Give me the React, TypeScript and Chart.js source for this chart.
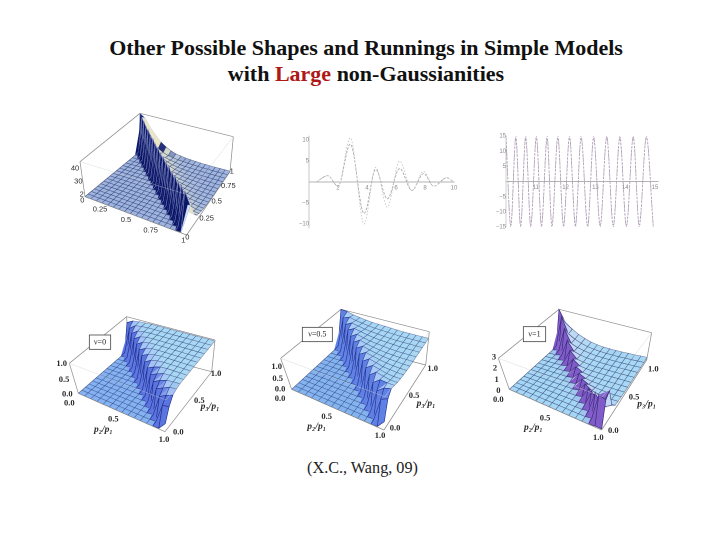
import React, { useEffect, useRef } from "react";
import { Chart, registerables } from "chart.js";

Chart.register(...registerables);

// ---------- 2D panels ----------
const waveX = [0.5, 1.3, 2, 2.85, 3.8, 4.6, 5.4, 6.25, 7.1, 7.9, 8.6, 9.5, 10];
const waveOuter = [0, 1.5, -1, 10.5, -10, 3.5, -6, 5, -2, 2.5, -1, 1, 0];
const waveInner = [0, 1.5, -1, 9, -7.5, 3, -4, 3.2, -2, 2, -1, 1, 0];

const fastX = [10.0, 10.16, 10.33, 10.49, 10.66, 10.83, 11.02, 11.19, 11.38, 11.54, 11.74, 11.93, 12.13, 12.33, 12.52, 12.74, 12.94, 13.16, 13.38, 13.6, 13.82, 14.04, 14.27, 14.47, 14.71, 14.94];
const fastA = [15, -15, 15, -15, 15, -15, 15, -15, 15, -15, 15, -15, 15, -15, 15, -15, 15, -15, 15, -15, 15, -15, 15, -15, 15, -15];
const fastB = [14.4, -14.4, 14.3, -14.5, 14.4, -14.3, 14.5, -14.4, 14.3, -14.5, 14.4, -14.4, 14.5, -14.3, 14.4, -14.5, 14.3, -14.4, 14.5, -14.4, 14.3, -14.5, 14.4, -14.3, 14.5, -14.4];

// ---------- 3D panels: rows along the first axis; each row lists its values up to the far edge,
// anything before the listed values is the flat floor (0) ----------
const surfaceFine = [
  [.6, 40], [.6, 40, 36], [.6, 40, 24, 27], [.6, 39, 24, 15, 20], [.6, 40, 23, 14, 10, 14],
  [.6, 39, 23, 14, 9, 7, 10], [.6, 40, 22, 13, 9, 6, 5, 7], [.6, 39, 22, 13, 8, 6, 4.5, 4, 5],
  [.6, 40, 22, 13, 8, 6, 4, 3.5, 3, 4], [.6, 39, 21, 12, 8, 5, 4, 3, 2.5, 2.5, 3],
  [.6, 40, 21, 12, 8, 5, 4, 3, 2.5, 2, 2, 2.5], [.6, 39, 21, 12, 7, 5, 3.5, 3, 2.3, 1.9, 1.7, 1.7, 2],
  [.6, 40, 20, 12, 7, 5, 3.5, 2.8, 2.2, 1.8, 1.5, 1.4, 1.4, 1.6],
  [.6, 39, 20, 11, 7, 5, 3.5, 2.7, 2.1, 1.7, 1.4, 1.2, 1.2, 1.2, 1.3],
  [.6, 40, 20, 11, 7, 4.5, 3.3, 2.6, 2, 1.6, 1.3, 1.1, 1, 1, 1, 1.1],
  [.6, 39, 20, 11, 7, 4.5, 3.2, 2.5, 1.9, 1.5, 1.2, 1, .9, .9, .8, .8, .9],
  [.6, 40, 20, 11, 7, 4.5, 3.2, 2.4, 1.8, 1.4, 1.1, .9, .8, .7, .7, .7, .7, .8],
  [.6, 39, 20, 11, 7, 4.5, 3.2, 2.4, 1.8, 1.4, 1.1, .9, .8, .7, .6, .6, .6, .6, .7],
  [30, 26, 18, 10, 6, 4, 3, 2.2, 1.7, 1.3, 1, .8, .7, .6, .5, .5, .5, .5, .6],
];
const surfaceNu0 = [
  [.02, .82], [.02, .8, .92], [.02, .8, .93, .95], [.02, .8, .93, .96, .96],
  [.02, .8, .92, .96, .97, .97], [.02, .8, .92, .96, .97, .97, .97],
  [.02, .8, .9, .96, .97, .97, .97, .97], [.02, .78, .9, .96, .97, .97, .97, .97, .97],
  [.02, .78, .9, .95, .97, .97, .97, .97, .97, .97], [.02, .76, .88, .95, .97, .97, .97, .97, .97, .97, .97],
  [.02, .74, .86, .95, .97, .97, .97, .97, .97, .97, .97, .97],
  [.02, .72, .85, .94, .97, .97, .97, .97, .97, .97, .97, .97, .97],
  [.02, .68, .82, .93, .96, .97, .97, .97, .97, .97, .97, .97, .97, .97],
  [.02, .62, .8, .92, .96, .97, .97, .97, .97, .97, .97, .97, .97, .97, .97],
  [.25, .65, .88, .94, .97, .97, .97, .97, .97, .97, .97, .97, .97, .97, .97],
];
const surfaceNu05 = [
  [.02, 1], [.02, .9, .98], [.02, .86, .97, .93], [.02, .86, .96, .92, .9],
  [.02, .84, .96, .92, .89, .87], [.02, .84, .96, .92, .88, .86, .85],
  [.02, .84, .96, .91, .88, .86, .84, .84], [.02, .84, .96, .91, .87, .85, .84, .83, .83],
  [.02, .82, .96, .91, .87, .85, .83, .82, .82, .82], [.02, .82, .96, .91, .87, .84, .83, .82, .81, .81, .81],
  [.02, .8, .96, .91, .87, .84, .82, .81, .81, .8, .8, .8],
  [.02, .78, .96, .91, .86, .84, .82, .81, .8, .8, .8, .8, .8],
  [.02, .74, .94, .91, .86, .84, .82, .81, .8, .8, .8, .8, .8, .8],
  [.02, .7, .9, .92, .87, .84, .82, .81, .8, .8, .8, .8, .8, .8, .8],
  [.25, .8, .96, .92, .87, .84, .82, .81, .8, .8, .8, .8, .8, .8, .8],
];
const surfaceNu1 = [
  [.1, 3], [.1, 2.8, 1.9], [.1, 2.2, 1.4, 1.5], [.1, 1.6, 1, 1.05, 1.15], [.1, 1.2, .75, .75, .8, .9],
  [.1, .9, .55, .55, .6, .62, .68], [.1, .75, .45, .42, .45, .48, .5, .55], [.1, .7, .4, .35, .35, .38, .4, .42, .45],
  [.1, .75, .4, .3, .3, .3, .33, .35, .36, .4], [.1, .9, .45, .32, .28, .28, .3, .3, .32, .33, .36],
  [.1, 1.1, .5, .35, .28, .26, .27, .28, .28, .3, .3, .33], [.1, 1.5, .6, .38, .3, .27, .26, .27, .27, .27, .28, .3, .32],
  [.1, 2, .75, .45, .33, .28, .27, .27, .27, .27, .27, .28, .28, .3],
  [.1, 2.5, 1.1, .55, .38, .32, .28, .27, .27, .27, .27, .27, .27, .28, .3],
  [.1, 2.3, 2.7, .9, .45, .35, .3, .28, .27, .27, .27, .27, .27, .28, .3],
];

const titleLine1 = "Other Possible Shapes and Runnings in Simple Models";
const credit = "(X.C., Wang, 09)";
const nuLabels = ["ν=0", "ν=0.5", "ν=1"];

type P = [number, number];
type Label = { t: string; x: number; y: number; font: string; align?: CanvasTextAlign };
type Panel = {
  left: number; top: number; w: number; h: number;
  rows: number[][]; zMax: number;
  floor: [P, P, P, P]; roof: [P, P, P, P];
  low: string; high: string; dark: string; light: string; back: string; grid: string; ridge: string; bias: number;
  labels: Label[]; box?: { x0: number; y0: number; x1: number; y1: number; t: string };
};

const sans = "7.5px 'Liberation Sans'";
const serif = "bold 8.5px 'Liberation Serif'";
const ital = "italic bold 9.5px 'Liberation Serif'";

function axisLabels(list: [string, number, number][], font: string): Label[] {
  return list.map(([t, x, y]) => ({ t, x, y, font }));
}

const panels: Panel[] = [
  {
    left: 40, top: 100, w: 220, h: 150, rows: surfaceFine, zMax: 40, bias: 0.5,
    floor: [[135, 290], [440, 405], [570, 215], [305, 150]],
    roof: [[120, 185], [445, 285], [580, 110], [300, 40]],
    low: "#9db3e0", high: "#cfe8dc", dark: "#0c1668", light: "#d4e2fa", back: "#ece6c4", grid: "rgba(35,45,95,0.6)", ridge: "rgba(200,215,245,0.55)",
    labels: axisLabels([["40", 105, 205], ["30", 115, 245], ["2", 125, 283], ["0", 127, 302], ["0.25", 180, 328], ["0.5", 258, 360], ["0.75", 332, 392], ["1", 430, 422], ["0", 442, 412], ["0.25", 500, 355], ["0.5", 530, 305], ["0.75", 565, 258], ["1", 575, 215]], sans),
  },
  {
    left: 40, top: 300, w: 220, h: 150, rows: surfaceNu0, zMax: 1, bias: 0.42,
    floor: [[115, 280], [375, 395], [515, 215], [265, 150]],
    roof: [[88, 190], [378, 300], [525, 120], [260, 50]],
    low: "#84b2f2", high: "#a8d8f4", dark: "#5a74e0", light: "#a6c0fa", back: "#9cc8f4", grid: "rgba(35,50,110,0.55)", ridge: "rgba(22,30,120,0.85)",
    labels: [...axisLabels([["1.0", 65, 192], ["0.5", 72, 240], ["0.0", 82, 283], ["0.0", 88, 310], ["0.5", 220, 358], ["1.0", 372, 420], ["0.0", 415, 397], ["0.5", 478, 303], ["1.0", 528, 222]], serif),
      ...axisLabels([["p₂/p₁", 190, 388], ["p₃/p₁", 510, 320]], ital)],
    box: { x0: 148, y0: 105, x1: 212, y1: 148, t: nuLabels[0] },
  },
  {
    left: 260, top: 300, w: 210, h: 150, rows: surfaceNu05, zMax: 1, bias: 0.4,
    floor: [[95, 268], [372, 390], [497, 195], [245, 130]],
    roof: [[62, 175], [375, 290], [508, 95], [243, 28]],
    low: "#84b4f0", high: "#a8d8f4", dark: "#5f80e4", light: "#a8c8f8", back: "#9cc8f4", grid: "rgba(35,50,110,0.55)", ridge: "rgba(22,30,120,0.8)",
    labels: [...axisLabels([["1.0", 50, 200], ["0.5", 53, 237], ["0.0", 60, 268], ["0.0", 60, 297], ["0.5", 200, 350], ["1.0", 360, 408], ["0.0", 405, 385], ["0.5", 462, 288], ["1.0", 518, 207]], serif),
      ...axisLabels([["p₂/p₁", 170, 380], ["p₃/p₁", 498, 310]], ital)],
    box: { x0: 127, y0: 82, x1: 217, y1: 125, t: nuLabels[1] },
  },
  {
    left: 480, top: 300, w: 200, h: 150, rows: surfaceNu1, zMax: 3, bias: 0.4,
    floor: [[88, 268], [365, 390], [500, 180], [240, 130]],
    roof: [[55, 175], [368, 290], [515, 98], [237, 28]],
    low: "#a5d6f5", high: "#b4def4", dark: "#7f5cc8", light: "#eed8f4", back: "#c0d8f4", grid: "rgba(35,50,100,0.6)", ridge: "rgba(40,25,100,0.8)",
    labels: [...axisLabels([["3", 42, 172], ["2", 45, 205], ["1", 50, 240], ["0", 55, 272], ["0.0", 55, 300], ["0.5", 195, 355], ["1.0", 355, 413], ["0.0", 400, 393], ["0.5", 462, 292], ["1.0", 520, 208]], serif),
      ...axisLabels([["p₂/p₁", 160, 383], ["p₃/p₁", 500, 312]], ital)],
    box: { x0: 130, y0: 80, x1: 197, y1: 125, t: nuLabels[2] },
  },
];

function hex(c: string) {
  return [1, 3, 5].map((k) => parseInt(c.slice(k, k + 2), 16));
}
function mix(a: string, b: string, t: number) {
  const A = hex(a), B = hex(b);
  const q = Math.max(0, Math.min(1, t));
  return `rgb(${A.map((v, k) => Math.round(v + (B[k] - v) * q)).join(",")})`;
}
function rgbToHex(c: string) {
  const m = c.match(/\d+/g)!.map(Number);
  return "#" + m.map((v) => v.toString(16).padStart(2, "0")).join("");
}

function make3D(p: Panel) {
  const n = p.rows.length - 1;
  const grid = p.rows.map((r) => [...new Array(n + 1 - r.length).fill(0), ...r]);
  const lerp = (a: P, b: P, t: number): P => [a[0] + (b[0] - a[0]) * t, a[1] + (b[1] - a[1]) * t];
  const onPlane = (c: [P, P, P, P], u: number, v: number) => lerp(lerp(c[0], c[1], u), lerp(c[3], c[2], u), v);
  const proj = (i: number, j: number) => {
    const u = i / n, v = j / n, w = grid[i][j] / p.zMax;
    const a = lerp(onPlane(p.floor, u, v), onPlane(p.roof, u, v), w);
    return { x: a[0], y: a[1] };
  };
  const faceColor = (a: number[], b: number[], c: number[]) => {
    const ux = b[0] - a[0], uy = b[1] - a[1], uz = b[2] - a[2];
    const vx = c[0] - a[0], vy = c[1] - a[1], vz = c[2] - a[2];
    let nx = uy * vz - uz * vy, ny = uz * vx - ux * vz, nz = ux * vy - uy * vx;
    if (nz < 0) { nx = -nx; ny = -ny; nz = -nz; }
    const len = Math.hypot(nx, ny, nz) || 1;
    const steep = 1 - nz / len;
    const side = (nx - ny) / (Math.abs(nx) + Math.abs(ny) + 1e-6);
    const avg = (a[2] + b[2] + c[2]) / 3;
    const flat = rgbToHex(mix(p.low, p.high, avg * 2.2));
    if (nx + ny > 0) return mix(flat, p.back, steep * 1.6); // slope turned away from the viewer's left
    const face = rgbToHex(mix(p.light, p.dark, side * 2 + p.bias));
    return mix(flat, face, steep * 1.6);
  };
  const ds: any[] = [];
  const line = (a: P, b: P, color: string, width = 0.7) => ({
    data: [{ x: a[0], y: a[1] }, { x: b[0], y: b[1] }], borderColor: color, borderWidth: width, pointRadius: 0, fill: false,
  });
  const [A, B, C, D] = p.floor;
  const [A2, B2, C2, D2] = p.roof;
  const edge = "#8a8a8a";
  // front lines come first: the first dataset is painted last
  ds.push(line(A2, B2, "rgba(200,205,215,0.55)", 0.6), line(B2, C2, "rgba(200,205,215,0.55)", 0.6));
  ds.push(line(A, B, edge), line(B, C, edge), line(A, A2, edge), line(C, C2, edge));
  const cells: [number, number][] = [];
  for (let i = 0; i < n; i++) for (let j = 0; j < n; j++) cells.push([i, j]);
  cells.sort((a, b) => b[0] - b[1] - (a[0] - a[1]));
  for (const [i, j] of cells) {
    const q = [proj(i, j), proj(i + 1, j), proj(i + 1, j + 1), proj(i, j + 1)];
    const w = [[i, j], [i + 1, j], [i + 1, j + 1], [i, j + 1]].map(([a, b]) => [a / n, b / n, grid[a][b] / p.zMax]);
    const heights = w.map((v) => v[2]);
    const steepCell = Math.max(...heights) - Math.min(...heights) > 0.18;
    const closed = [...q, q[0]];
    if (steepCell) {
      ds.push({ data: closed, borderColor: p.ridge, borderWidth: 0.6, pointRadius: 0, fill: false });
      const c1 = faceColor(w[0], w[1], w[2]);
      const c2 = faceColor(w[0], w[2], w[3]);
      ds.push({ data: [q[0], q[1], q[2], q[0]], borderColor: c1, backgroundColor: c1, borderWidth: 0.5, pointRadius: 0, fill: "shape" });
      ds.push({ data: [q[0], q[2], q[3], q[0]], borderColor: c2, backgroundColor: c2, borderWidth: 0.5, pointRadius: 0, fill: "shape" });
    } else {
      const c = faceColor(w[0], w[1], w[2]);
      ds.push({ data: closed, borderColor: p.grid, backgroundColor: c, borderWidth: 0.55, pointRadius: 0, fill: "shape" });
    }
  }
  ds.push(line(D2, C2, edge), line(A2, D2, edge), line(D, D2, edge), line(A, D, edge), line(D, C, edge));
  return ds;
}

function Surface({ panel }: { panel: Panel }) {
  const ref = useRef<HTMLCanvasElement>(null);
  useEffect(() => {
    const labelPlugin = {
      id: "axisText",
      afterDraw(chart: any) {
        const { ctx, scales } = chart;
        const X = (v: number) => scales.x.getPixelForValue(v);
        const Y = (v: number) => scales.y.getPixelForValue(v);
        ctx.save();
        ctx.textAlign = "center";
        ctx.textBaseline = "middle";
        ctx.fillStyle = "#2a2a2a";
        for (const l of panel.labels) {
          ctx.font = l.font;
          ctx.fillText(l.t, X(l.x), Y(l.y));
        }
        if (panel.box) {
          const b = panel.box;
          ctx.fillStyle = "#ffffff";
          ctx.strokeStyle = "#444444";
          ctx.lineWidth = 0.8;
          ctx.fillRect(X(b.x0), Y(b.y0), X(b.x1) - X(b.x0), Y(b.y1) - Y(b.y0));
          ctx.strokeRect(X(b.x0), Y(b.y0), X(b.x1) - X(b.x0), Y(b.y1) - Y(b.y0));
          ctx.fillStyle = "#222222";
          ctx.font = "8px 'Liberation Serif'";
          ctx.fillText(b.t, (X(b.x0) + X(b.x1)) / 2, (Y(b.y0) + Y(b.y1)) / 2);
        }
        ctx.restore();
      },
    };
    const chart = new Chart(ref.current!, {
      type: "line",
      data: { datasets: make3D(panel) },
      options: {
        animation: false, responsive: false, devicePixelRatio: 2,
        parsing: false as any, normalized: false,
        layout: { padding: 0 },
        elements: { line: { tension: 0 } },
        plugins: { legend: { display: false }, tooltip: { enabled: false }, title: { display: false } },
        events: [],
        scales: {
          x: { type: "linear", display: false, min: 0, max: panel.w * 3 },
          y: { type: "linear", display: false, min: 0, max: panel.h * 3, reverse: true },
        },
      },
      plugins: [labelPlugin],
    } as any);
    return () => chart.destroy();
  }, [panel]);
  return (
    <canvas ref={ref} width={panel.w} height={panel.h}
      style={{ position: "absolute", left: panel.left, top: panel.top, width: panel.w, height: panel.h, filter: "blur(0.4px)" }} />
  );
}

function Curves(props: {
  left: number; top: number; w: number; h: number; pad: any;
  xs: number[]; series: number[][]; xMin: number; xMax: number; yMin: number; yMax: number; xStep: number; yStep: number; hideX: number; colors: string[]; axisY: string;
}) {
  const ref = useRef<HTMLCanvasElement>(null);
  useEffect(() => {
    const tickFont = { family: "'Liberation Sans'", size: 6 };
    const chart = new Chart(ref.current!, {
      type: "line",
      data: {
        datasets: props.series.map((s, k) => ({
          data: s.map((y, i) => ({ x: props.xs[i], y })),
          borderColor: props.colors[k], borderWidth: 0.8, pointRadius: 0, borderDash: k === 0 ? [1.6, 1.6] : [2.5, 1.4],
          cubicInterpolationMode: "monotone", fill: false,
        })),
      },
      options: {
        animation: false, responsive: false, devicePixelRatio: 2,
        layout: { padding: props.pad },
        plugins: { legend: { display: false }, tooltip: { enabled: false } },
        events: [],
        scales: {
          x: {
            type: "linear", min: props.xMin, max: props.xMax, position: { y: 0 },
            grid: { display: false, drawTicks: false }, border: { color: "#9a9a9a", width: 0.8 },
            ticks: { stepSize: props.xStep, includeBounds: false, font: tickFont, color: "#8a8a8a", padding: 2, maxRotation: 0, autoSkip: false,
              callback: (v: number) => (v === props.hideX || !Number.isInteger(v) ? "" : String(v)) },
          },
          y: {
            type: "linear", min: props.yMin, max: props.yMax, position: { x: props.hideX },
            grid: { display: false, drawTicks: false }, border: { color: props.axisY, width: 0.8 },
            ticks: { stepSize: props.yStep, includeBounds: false, font: tickFont, color: "#8a8a8a", padding: 2, autoSkip: false,
              callback: (v: number) => (v === 0 || Math.abs(v) % props.yStep !== 0 ? "" : String(v).replace("-", "−")) },
          },
        },
      },
    } as any);
    return () => chart.destroy();
  }, []);
  return <canvas ref={ref} width={props.w} height={props.h}
    style={{ position: "absolute", left: props.left, top: props.top, width: props.w, height: props.h, filter: "blur(0.35px)" }} />;
}

export default function App() {
  const serifFont = "'Liberation Serif', serif";
  return (
    <div style={{ position: "absolute", left: 0, top: 0, width: 720, height: 540, background: "#fff", overflow: "hidden" }}>
      <div style={{ position: "absolute", left: 0, top: 35, width: 732, textAlign: "center", font: `bold 22px/26px ${serifFont}`, color: "#111" }}>
        <div>{titleLine1}</div>
        <div>with <span style={{ color: "#b01818" }}>Large</span> non-Gaussianities</div>
      </div>
      {panels.map((p, k) => <Surface key={k} panel={p} />)}
      <Curves left={285} top={120} w={180} h={115} pad={{ left: 24, right: 11, top: 15.8, bottom: 6.8 }}
        xs={waveX} series={[waveOuter, waveInner]} xMin={0} xMax={10} yMin={-11} yMax={11} xStep={2} yStep={5} hideX={0} colors={["#c4c4c4", "#a0a0a0"]} axisY="#bbbbbb" />
      <Curves left={490} top={120} w={180} h={115} pad={{ left: 16, right: 12, top: 16, bottom: 8 }}
        xs={fastX} series={[fastA, fastB]} xMin={10} xMax={15.1} yMin={-15} yMax={15} xStep={1} yStep={5} hideX={10} colors={["#b9a8c0", "#a497ac"]} axisY="#c4c4c4" />
      <div style={{ position: "absolute", left: 0, top: 459, width: 725, textAlign: "center", font: `16.2px/18px ${serifFont}`, color: "#222" }}>{credit}</div>
    </div>
  );
}
